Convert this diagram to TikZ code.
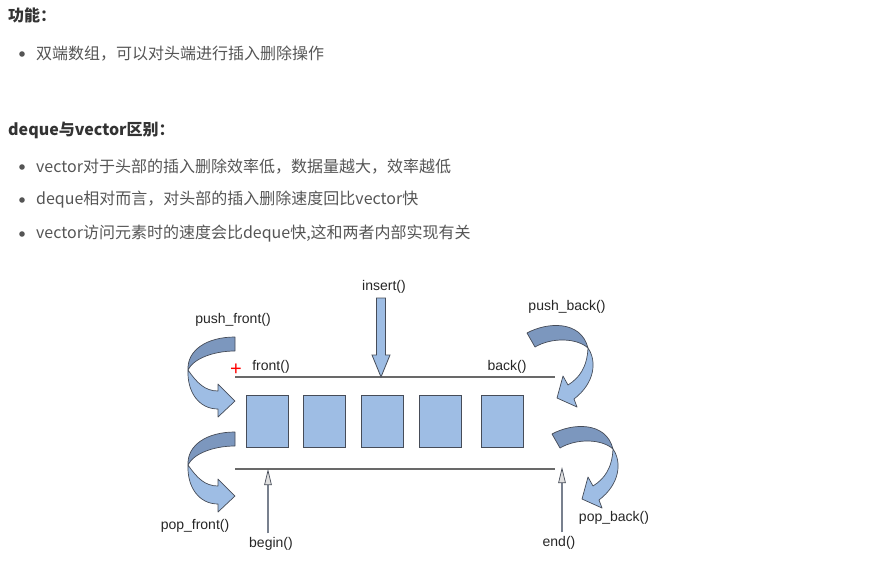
\documentclass[tikz,border=0pt]{standalone}
\usepackage{fontspec}
\setmainfont{Liberation Sans}
\newfontfamily\cjk{Noto Sans CJK SC}
\usetikzlibrary{arrows.meta,calc}
\definecolor{dqBlue}{RGB}{158,189,228}
\definecolor{dqBlueDark}{RGB}{124,151,190}
\definecolor{dqEdge}{RGB}{70,76,88}
\definecolor{dqLine}{RGB}{105,105,105}
\definecolor{dqShaft}{RGB}{120,128,142}
\definecolor{dqText}{RGB}{85,85,85}
\definecolor{dqHead}{RGB}{51,51,51}

\tikzset{
  cell/.style={draw=dqEdge, line width=0.8pt, fill=dqBlue, minimum width=42pt, minimum height=52pt, inner sep=0pt},
  lbl/.style={text=black!85, font=\fontsize{14}{16}\selectfont, inner sep=0pt},
  body/.style={anchor=west, text=dqText, font=\cjk\fontsize{16}{18}\selectfont, inner sep=0pt},
  title/.style={anchor=west, text=dqHead, font=\cjk\bfseries\fontsize{16}{18}\selectfont, inner sep=0pt},
  ptr/.style={draw=dqShaft, line width=2.4pt, -{Triangle[length=16pt,width=7.5pt,fill=black!12,color=dqEdge,line width=0.7pt]}},
  band/.style={draw=dqEdge, line width=0.7pt, line join=round},
  curlL/.pic={
    \filldraw[band, fill=dqBlue] (-47,33) .. controls (-38,46) and (-30,54) .. (-17,54) -- (-17,47) -- (0,64)
      -- (-17,80) -- (-17,72) .. controls (-36,72) and (-48,55) .. (-47,33) -- cycle;
    \filldraw[band, fill=dqBlueDark] (0,0) -- (0,14) .. controls (-22,14) and (-42,22) .. (-47,33)
      .. controls (-48,13) and (-28,0) .. (0,0) -- cycle;
  },
  curlR/.pic={
    \filldraw[band, fill=dqBlue] (61,15) .. controls (70,28) and (68,50) .. (47,66) -- (50,74) -- (30,65)
      -- (36,43) -- (41,52) .. controls (52,45) and (60,35) .. (61,15) -- cycle;
    \filldraw[band, fill=dqBlueDark] (0,0) -- (8,14) .. controls (25,4) and (50,5) .. (61,15)
      .. controls (54,-13) and (20,-11) .. (0,0) -- cycle;
  }
}

\begin{document}
\begin{tikzpicture}[x=1pt,y=-1pt]
\useasboundingbox (0,0) rectangle (890,560);

\node[title] (gn) at (8,15) {功能：};
\fill[dqText] (22,54) circle (2.8);
\node[body] (b1) at (36,54) {双端数组，可以对头端进行插入删除操作};

\node[title] (qb) at (8,130) {deque与vector区别：};
\fill[dqText] (22,167) circle (2.8);
\node[body] (b2) at (36,167) {vector对于头部的插入删除效率低，数据量越大，效率越低};
\fill[dqText] (22,200) circle (2.8);
\node[body] (b3) at (36,200) {deque相对而言，对头部的插入删除速度回比vector快};
\fill[dqText] (22,234) circle (2.8);
\node[body] (b4) at (36,234) {vector访问元素时的速度会比deque快,这和两者内部实现有关};

% container
\coordinate (tl) at (235,377);
\coordinate (tr) at (555,377);
\coordinate (bl) at (235,469);
\coordinate (br) at (555,469);
\draw[dqLine, line width=1.3pt] (tl) -- (tr);
\draw[dqLine, line width=1.3pt] (bl) -- (br);
\foreach \cx [count=\i] in {267,324,382,440,502}
  \node[cell] (c\i) at (\cx,421) {};

\node[lbl] (front) at (271,367) {front()};
\node[text=red, font=\fontsize{20}{20}\selectfont, inner sep=0pt] (plus) at (236,370) {+};
\node[lbl] (back) at (507,367) {back()};

% insert
\node[lbl] (insert) at (384,287) {insert()};
\coordinate (ins) at (381,377);
\filldraw[fill=dqBlue, draw=dqEdge, line width=0.8pt] (ins) -- ++(-9,-22) -- ++(4.5,0) -- ++(0,-57)
  -- ++(9,0) -- ++(0,57) -- ++(4.5,0) -- cycle;

% iterators
\node[lbl] (begin) at (271,544) {begin()};
\node[lbl] (end) at (559,543) {end()};
\coordinate (bg) at (268,469);
\coordinate (ed) at (562,467);
\draw[ptr] ($(bg |- begin.north)+(0,-4)$) -- (bg);
\draw[ptr] ($(ed |- end.north)+(0,-4)$) -- (ed);

% push / pop
\node[lbl] (pushf) at (233,320) {push\_front()};
\node[lbl] (pushb) at (567,307) {push\_back()};
\node[lbl] (popf) at (195,526) {pop\_front()};
\node[lbl] (popb) at (614,518) {pop\_back()};
\pic at (235,337) {curlL};
\pic at (235,432) {curlL};
\pic at (527,333) {curlR};
\pic at (552,434) {curlR};
\end{tikzpicture}
\end{document}
